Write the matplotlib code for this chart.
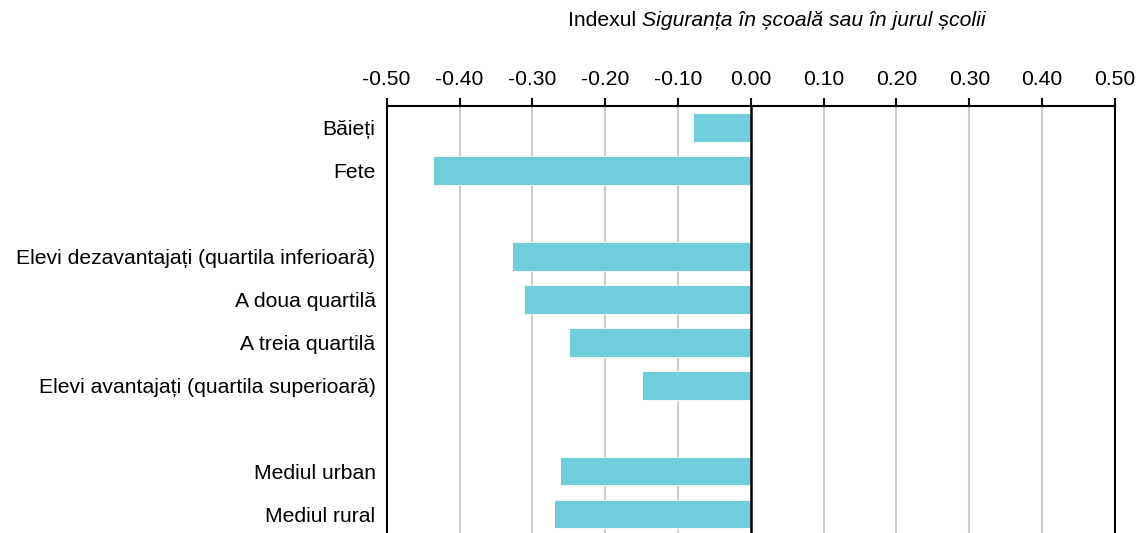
import numpy as np
import matplotlib as mpl
mpl.use("Agg")
import matplotlib.pyplot as plt

plt.rcParams["font.family"] = ["Liberation Sans", "DejaVu Sans"]

# index values per student group (None = spacer row between groups)
labels = ["Băieți", "Fete", "",
          "Elevi dezavantajați (quartila inferioară)", "A doua quartilă",
          "A treia quartilă", "Elevi avantajați (quartila superioară)", "",
          "Mediul urban", "Mediul rural"]
values = [-0.08, -0.436, None,
          -0.328, -0.311, -0.250, -0.150, None,
          -0.262, -0.270]
xticks = [-0.5, -0.4, -0.3, -0.2, -0.1, 0.0, 0.1, 0.2, 0.3, 0.4, 0.5]

BAR = "#70cddb"
GRID = "#cccccc"
FS = 15.25

fig = plt.figure(figsize=(11.41, 5.33), dpi=100)
ax = fig.add_axes([0.3389, 0.0, 0.9772 - 0.3389, 0.8017])

ypos = np.arange(len(labels))
for y, v in zip(ypos, values):
    if v is None:
        continue
    ax.barh(y, v, height=0.67, color=BAR, edgecolor="white", linewidth=0.6, zorder=3)

ax.set_xlim(-0.5, 0.5)
ax.set_ylim(9.44, -0.5)
ax.set_xticks(xticks)
ax.set_xticklabels([f"{t:.2f}" for t in xticks], fontsize=FS)
ax.xaxis.tick_top()
ax.tick_params(axis="x", direction="out", length=6, width=1.5, color="black", pad=6)
ax.set_yticks(ypos)
ax.set_yticklabels(labels, fontsize=FS)
ax.tick_params(axis="y", length=0, pad=8)

for t in xticks[1:-1]:
    if t != 0.0:
        ax.axvline(t, color=GRID, lw=1.5, zorder=1)
ax.axvline(0, color="black", lw=1.8, zorder=4)

for s in ("top", "left", "right"):
    ax.spines[s].set_color("black")
    ax.spines[s].set_linewidth(1.5)
ax.spines["bottom"].set_visible(False)

# title: plain prefix + italic index name, centred as one line
ty = 1 - 21 / 533
t1 = fig.text(0.0, ty, "Indexul ", fontsize=FS, va="center", ha="left")
t2 = fig.text(0.0, ty, "Siguranța în școală sau în jurul școlii",
              fontsize=FS, style="italic", va="center", ha="left")
fig.canvas.draw()
r = fig.canvas.get_renderer()
w1 = t1.get_window_extent(r).width
w2 = t2.get_window_extent(r).width
x0 = 777 - (w1 + w2) / 2
t1.set_x(x0 / 1141)
t2.set_x((x0 + w1) / 1141)

fig.savefig("out.png", dpi=100)
